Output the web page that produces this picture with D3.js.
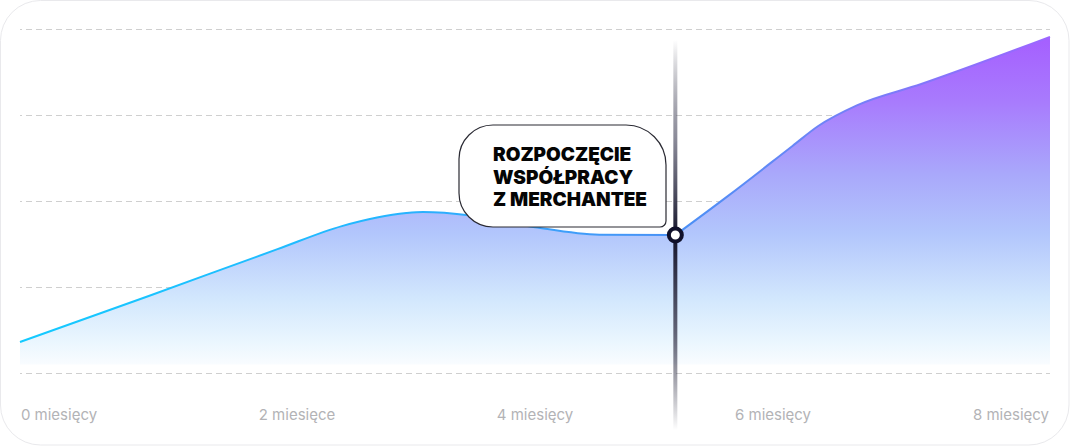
<!DOCTYPE html>
<html><head><meta charset="utf-8">
<script src="https://cdn.jsdelivr.net/npm/d3@7"></script>
<style>
html,body{margin:0;padding:0;background:#fff;}
svg{display:block;}
</style></head>
<body>
<svg id="chart" width="1070" height="446"></svg>
<script>
// ---- data ----
const monthsBefore = [0, 1, 2, 2.5, 3, 3.13, 3.5, 4, 4.5, 5.09];
const valuesBefore = [9, 22.4, 36, 42.7, 46.5, 46.8, 45.8, 42.4, 40.2, 40.1];
const monthsAfter = [5.09, 5.5, 6, 6.2, 6.5, 7, 8];
const valuesAfter = [40.1, 51.5, 66, 71.8, 77.8, 84, 97.7];
const gridValues = [0, 25, 50, 75, 100];
const tickLabels = ["0 miesięcy", "2 miesięce", "4 miesięcy", "6 miesięcy", "8 miesięcy"];
const eventMonth = 5.09;
const eventValue = 40.1;
const eventLabel = ["ROZPOCZĘCIE", "WSPÓŁPRACY", "Z MERCHANTEE"];
const baselineValue = 2.5;

const W = 1070, H = 446;
const svg = d3.select("#chart");
const x = d3.scaleLinear().domain([0, 8]).range([20, 1050]);
const y = d3.scaleLinear().domain([0, 100]).range([373, 29]);
const xl = d3.scalePoint().domain(tickLabels).range([59, 1011]);

const defs = svg.append("defs");
const ag = defs.append("linearGradient").attr("id", "areaGrad")
  .attr("gradientUnits", "userSpaceOnUse").attr("x1", 0).attr("x2", 0)
  .attr("y1", y(98)).attr("y2", y(baselineValue));
[[0, "#a55eff"], [0.2, "#a87bfd"], [0.42, "#a9a8fb"], [0.6, "#b2c6fc"], [0.8, "#d2e7fd"], [0.93, "#eaf6fe"], [1, "#f9fcff"]]
  .forEach(s => ag.append("stop").attr("offset", s[0]).attr("stop-color", s[1]));

const lg = defs.append("linearGradient").attr("id", "lineGrad")
  .attr("gradientUnits", "userSpaceOnUse").attr("y1", 0).attr("y2", 0)
  .attr("x1", x(0)).attr("x2", x(8));
[[0, "#14caff"], [0.35, "#24b6ff"], [0.5, "#3aa2fb"], [0.64, "#4a90f5"], [0.76, "#6a86f6"], [1, "#9c66ff"]]
  .forEach(s => lg.append("stop").attr("offset", s[0]).attr("stop-color", s[1]));

const vg = defs.append("linearGradient").attr("id", "vGrad")
  .attr("gradientUnits", "userSpaceOnUse").attr("x1", 0).attr("x2", 0)
  .attr("y1", 40).attr("y2", 430);
[[0, "#14142a", 0], [0.25, "#5a5a6e", 0.7], [0.5, "#14142a", 1], [0.75, "#4a4a5e", 0.85], [1, "#14142a", 0]]
  .forEach(s => vg.append("stop").attr("offset", s[0]).attr("stop-color", s[1]).attr("stop-opacity", s[2]));

// card
svg.append("rect").attr("x", 0.5).attr("y", 0.5).attr("width", W - 1.5).attr("height", H - 1.5)
  .attr("rx", 40).attr("fill", "#fff").attr("stroke", "#e9e9ec");

// grid
svg.append("g").selectAll("line").data(gridValues).join("line")
  .attr("x1", x(0)).attr("x2", x(8))
  .attr("y1", d => y(d) + 0.5).attr("y2", d => y(d) + 0.5)
  .attr("stroke", "#cfcfcf").attr("stroke-width", 1).attr("stroke-dasharray", "6,4").attr("stroke-dashoffset", 4);

const before = monthsBefore.map((m, i) => [m, valuesBefore[i]]);
const after = monthsAfter.map((m, i) => [m, valuesAfter[i]]);
const line = d3.line().x(d => x(d[0])).y(d => y(d[1])).curve(d3.curveMonotoneX);
// two smooth segments joined with a kink at the event point
const lineD = line(before) + line(after).replace(/^M/, "L");
const x0 = x(monthsBefore[0]), xN = x(monthsAfter[monthsAfter.length - 1]), yb = y(baselineValue);
const areaD = lineD + `L${xN},${yb}L${x0},${yb}Z`;

svg.append("path").attr("d", areaD).attr("fill", "url(#areaGrad)");
svg.append("path").attr("d", lineD).attr("fill", "none")
  .attr("stroke", "url(#lineGrad)").attr("stroke-width", 2).attr("stroke-linejoin", "round");

// axis labels
svg.append("g").selectAll("text").data(tickLabels).join("text")
  .attr("x", d => xl(d)).attr("y", 420).attr("text-anchor", "middle")
  .attr("font-family", "Inter, 'Noto Sans', sans-serif").attr("font-size", 15)
  .attr("fill", "#b3b3b6").text(d => d);

// vertical event line
svg.append("rect").attr("x", x(eventMonth) - 2).attr("y", 40).attr("width", 4).attr("height", 390)
  .attr("fill", "url(#vGrad)");

// callout
const bx0 = 459, bx1 = 666, by0 = 125, by1 = 227;
const r1 = 34, r2 = 40, r3 = 6, r4 = 34;
const p = d3.path();
p.moveTo(bx0 + r1, by0);
p.lineTo(bx1 - r2, by0);
p.arcTo(bx1, by0, bx1, by0 + r2, r2);
p.lineTo(bx1, by1 - r3);
p.arcTo(bx1, by1, bx1 - r3, by1, r3);
p.lineTo(bx0 + r4, by1);
p.arcTo(bx0, by1, bx0, by1 - r4, r4);
p.lineTo(bx0, by0 + r1);
p.arcTo(bx0, by0, bx0 + r1, by0, r1);
p.closePath();
svg.append("path").attr("d", p.toString()).attr("fill", "#fff").attr("stroke", "#2a2a33").attr("stroke-width", 1.2);

svg.append("g").selectAll("text").data(eventLabel).join("text")
  .attr("x", 493).attr("y", (d, i) => 161 + i * 22.5)
  .attr("font-family", "Inter, sans-serif").attr("font-weight", 900).attr("font-size", 19)
  .attr("letter-spacing", 0)
  .attr("fill", "#050505").text(d => d);

// event point
svg.append("circle").attr("cx", x(eventMonth)).attr("cy", y(eventValue)).attr("r", 6.5)
  .attr("fill", "#fff").attr("stroke", "#10102a").attr("stroke-width", 4);
</script>
</body></html>
